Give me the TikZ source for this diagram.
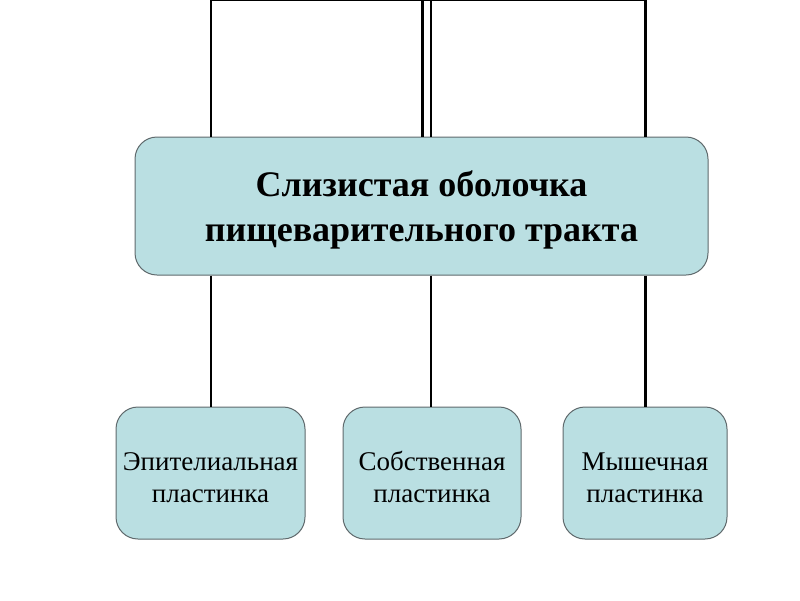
\documentclass[tikz,border=0pt]{standalone}
\usepackage{fontspec}
\setmainfont{Liberation Serif}
\usetikzlibrary{calc,positioning}
\definecolor{boxfill}{RGB}{186,223,226}
\definecolor{boxline}{RGB}{95,105,108}

\begin{document}
\begin{tikzpicture}[x=1pt,y=-1pt,
head/.style={
	draw=boxline, line width=1pt, fill=boxfill, rounded corners=22pt,
	minimum width=573pt, minimum height=138pt,
	align=center, text=black,
	text height=80pt, text depth=10pt,
	font=\fontsize{36}{45}\selectfont\bfseries
},
part/.style={
	draw=boxline, line width=1pt, fill=boxfill, rounded corners=22pt,
	minimum height=132pt, align=center, text=black,
	text height=68pt, text depth=10pt,
	font=\fontsize{27}{32}\selectfont
},
line width=2.2pt
]
\useasboundingbox (0,0) rectangle (800,600);
\node[head] (M) at (421.5,206) {Слизистая оболочка\\пищеварительного тракта};
\node[part,minimum width=189pt] (p1) at (210.5,473) {Эпителиальная\\пластинка};
\node[part,minimum width=178pt] (p2) at (432,473) {Собственная\\пластинка};
\node[part,minimum width=164pt] (p3) at (645,473) {Мышечная\\пластинка};
\coordinate (t1) at (211,0);
\coordinate (t2) at (422.5,0);
\coordinate (t3) at (431,0);
\coordinate (t4) at (645.5,0);
\draw (t1) -- (t4);
\draw (t2) -- (t2 |- M.north);
\foreach \i/\t in {1/1,2/3,3/4}
{
	\draw (t\t) -- (t\t |- M.north);
	\draw (t\t |- M.south) -- (t\t |- p\i.north);
}
\end{tikzpicture}
\end{document}
